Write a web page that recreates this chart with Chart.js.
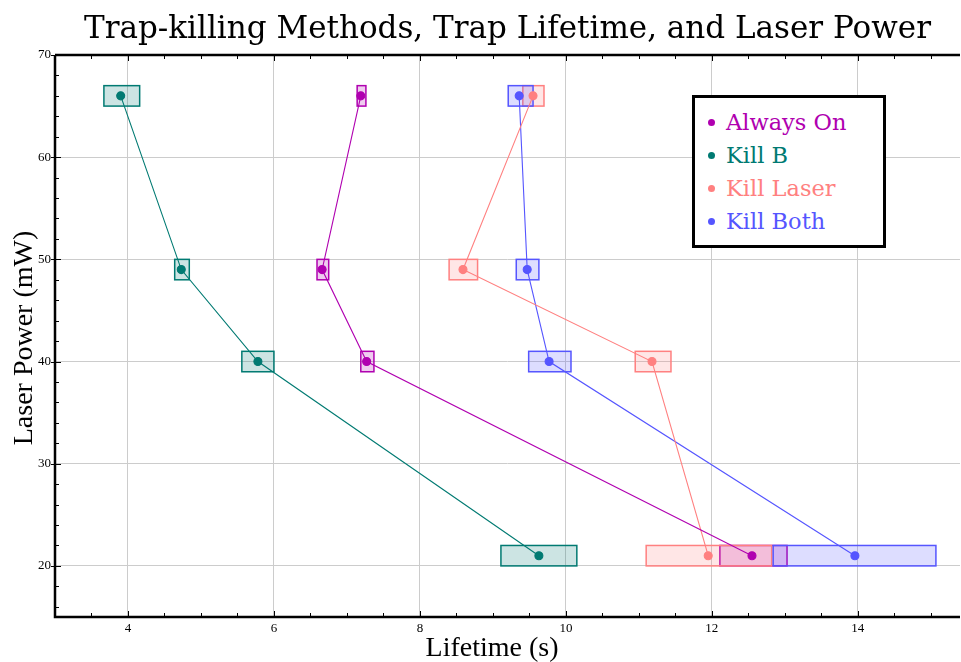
<!DOCTYPE html>
<html>
<head>
<meta charset="utf-8">
<script src="https://cdn.jsdelivr.net/npm/chart.js@4"></script>
<style>
  body { margin: 0; background: #fff; }
  #wrap { position: relative; width: 961px; height: 662px; }
  #legend {
    position: absolute; left: 692px; top: 95px; width: 188px; height: 147px;
    border: 3px solid #000; background: #fff; box-sizing: content-box;
    font-family: "DejaVu Serif", serif; font-size: 22.5px;
  }
  #legend div { position: absolute; left: 31px; white-space: nowrap; line-height: 26px; }
  #legend span { position: absolute; left: -18px; top: 10px; width: 7px; height: 7px; border-radius: 50%; }
</style>
</head>
<body>
<div id="wrap">
  <canvas id="chart" width="961" height="662"></canvas>
  <div id="legend"></div>
</div>
<script>
const seriesNames = ["Always On", "Kill B", "Kill Laser", "Kill Both"];
const seriesColors = ["#b000b0", "#007a72", "#ff8080", "#5555ff"];
const seriesFill = ["rgba(176,0,176,0.2)", "rgba(0,122,114,0.2)", "rgba(255,128,128,0.2)", "rgba(85,85,255,0.2)"];

const power = [66, 49, 40, 21];
const powerErr = 1;

const alwaysOnLife = [7.19, 6.66, 7.27, 12.55];
const alwaysOnLo = [7.14, 6.59, 7.19, 12.11];
const alwaysOnHi = [7.26, 6.75, 7.37, 13.03];

const killBLife = [3.9, 4.73, 5.78, 9.63];
const killBLo = [3.67, 4.64, 5.56, 9.11];
const killBHi = [4.16, 4.84, 6.0, 10.15];

const killLaserLife = [9.55, 8.59, 11.18, 11.95];
const killLaserLo = [9.41, 8.4, 10.95, 11.1];
const killLaserHi = [9.7, 8.79, 11.44, 12.82];

const killBothLife = [9.36, 9.47, 9.77, 13.96];
const killBothLo = [9.21, 9.32, 9.49, 12.84];
const killBothHi = [9.55, 9.63, 10.07, 15.07];

const xMajor = [4, 6, 8, 10, 12, 14];
const yMajor = [20, 30, 40, 50, 60, 70];

const chartTitle = "Trap-killing Methods, Trap Lifetime, and Laser Power";
const xTitle = "Lifetime (s)";
const yTitle = "Laser Power (mW)";

const lifes = [alwaysOnLife, killBLife, killLaserLife, killBothLife];
const los = [alwaysOnLo, killBLo, killLaserLo, killBothLo];
const his = [alwaysOnHi, killBHi, killLaserHi, killBothHi];

const datasets = seriesNames.map((name, i) => ({
  label: name,
  data: lifes[i].map((x, j) => ({ x: x, y: power[j] })),
  showLine: true,
  borderColor: seriesColors[i],
  backgroundColor: seriesColors[i],
  borderWidth: 1.1,
  pointRadius: 4,
  pointHoverRadius: 4
}));

const serif = "'Liberation Serif', 'Times New Roman', serif";

// error boxes, drawn under the lines
const errorBoxes = {
  id: "errorBoxes",
  beforeDatasetsDraw(chart) {
    const ctx = chart.ctx;
    const xs = chart.scales.x, ys = chart.scales.y;
    ctx.save();
    seriesNames.forEach((n, i) => {
      power.forEach((p, j) => {
        const x1 = xs.getPixelForValue(los[i][j]);
        const x2 = xs.getPixelForValue(his[i][j]);
        const y1 = ys.getPixelForValue(p + powerErr);
        const y2 = ys.getPixelForValue(p - powerErr);
        ctx.fillStyle = seriesFill[i];
        ctx.fillRect(x1, y1, x2 - x1, y2 - y1);
        ctx.strokeStyle = seriesColors[i];
        ctx.lineWidth = 1.5;
        ctx.strokeRect(x1, y1, x2 - x1, y2 - y1);
      });
    });
    ctx.restore();
  }
};

// frame, inward ticks and titles
const frame = {
  id: "frame",
  afterDraw(chart) {
    const ctx = chart.ctx;
    const a = chart.chartArea;
    const xs = chart.scales.x, ys = chart.scales.y;
    ctx.save();
    ctx.strokeStyle = "#000";
    ctx.lineWidth = 2.5;
    ctx.beginPath();
    ctx.moveTo(a.left, a.top); ctx.lineTo(a.right, a.top);
    ctx.moveTo(a.left, a.top); ctx.lineTo(a.left, a.bottom);
    ctx.lineTo(a.right, a.bottom);
    ctx.stroke();
    ctx.lineWidth = 1;
    ctx.beginPath();
    for (let v = 3.5; v <= xs.max; v += 0.5) {
      const px = Math.round(xs.getPixelForValue(v)) + 0.5;
      const len = v % 2 === 0 ? 6 : 4;
      ctx.moveTo(px, a.bottom); ctx.lineTo(px, a.bottom - len);
      ctx.moveTo(px, a.top); ctx.lineTo(px, a.top + len);
    }
    for (let v = 16; v < 70; v += 2) {
      const py = Math.round(ys.getPixelForValue(v)) + 0.5;
      const len = v % 10 === 0 ? 6 : 4;
      ctx.moveTo(a.left, py); ctx.lineTo(a.left + len, py);
    }
    yMajor.forEach(v => {
      const py = Math.round(ys.getPixelForValue(v)) + 0.5;
      ctx.moveTo(a.left - 4, py); ctx.lineTo(a.left, py);
    });
    ctx.stroke();

    ctx.fillStyle = "#000";
    ctx.textAlign = "center";
    ctx.textBaseline = "alphabetic";
    ctx.font = "31px 'DejaVu Serif', serif";
    ctx.fillText(chartTitle, (a.left + a.right) / 2, 38);
    ctx.font = "28px " + serif;
    ctx.fillText(xTitle, 492, 656);
    ctx.translate(32, (a.top + a.bottom) / 2 + 2);
    ctx.rotate(-Math.PI / 2);
    ctx.fillText(yTitle, 0, 0);
    ctx.restore();
  }
};

new Chart(document.getElementById("chart"), {
  type: "scatter",
  data: { datasets: datasets },
  plugins: [errorBoxes, frame],
  options: {
    responsive: false,
    animation: false,
    layout: { autoPadding: false, padding: { top: 55, right: 1, left: 0, bottom: 0 } },
    plugins: {
      legend: { display: false },
      tooltip: { enabled: false },
      title: { display: false }
    },
    scales: {
      x: {
        type: "linear",
        min: 3,
        max: 15.4,
        afterFit(s) { s.height = 45; s.paddingRight = 0; s.paddingLeft = 0; },
        afterBuildTicks(s) { s.ticks = xMajor.map(v => ({ value: v })); },
        ticks: { color: "#000", font: { family: serif, size: 13 }, padding: 4 },
        grid: { color: "#cccccc", lineWidth: 1, drawTicks: false },
        border: { display: false }
      },
      y: {
        type: "linear",
        min: 15,
        max: 70,
        afterFit(s) { s.width = 55; s.paddingTop = 0; s.paddingBottom = 0; },
        afterBuildTicks(s) { s.ticks = yMajor.map(v => ({ value: v })); },
        ticks: { color: "#000", font: { family: serif, size: 13 }, padding: 4 },
        grid: { color: "#cccccc", lineWidth: 1, drawTicks: false },
        border: { display: false }
      }
    }
  }
});

const legendEl = document.getElementById("legend");
seriesNames.forEach((name, i) => {
  const row = document.createElement("div");
  row.style.top = (11 + i * 33) + "px";
  row.style.color = seriesColors[i];
  const dot = document.createElement("span");
  dot.style.background = seriesColors[i];
  row.appendChild(dot);
  row.appendChild(document.createTextNode(name));
  legendEl.appendChild(row);
});
</script>
</body>
</html>
